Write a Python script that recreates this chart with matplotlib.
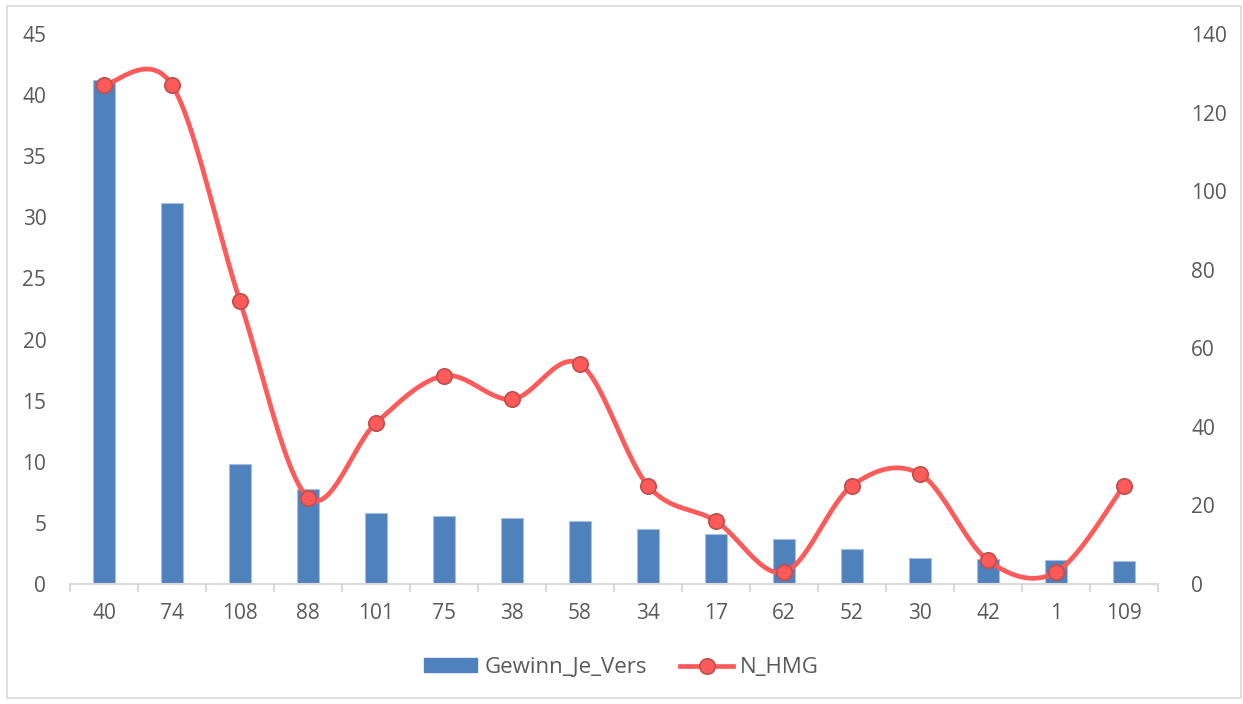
import numpy as np
import matplotlib
matplotlib.use("Agg")
import matplotlib.pyplot as plt
from matplotlib.patches import Rectangle, Patch
from matplotlib.lines import Line2D

# category labels along the x axis
categories = ["40", "74", "108", "88", "101", "75", "38", "58",
              "34", "17", "62", "52", "30", "42", "1", "109"]
# bars, left axis
gewinn_je_vers = [41.2, 31.2, 9.8, 7.8, 5.8, 5.55, 5.37, 5.15,
                  4.47, 4.09, 3.71, 2.84, 2.15, 2.07, 1.96, 1.86]
# smoothed line, right axis
n_hmg = [127, 127, 72, 22, 41, 53, 47, 56, 25, 16, 3, 25, 28, 6, 3, 25]

BAR_COLOR = "#4F81BD"
LINE_COLOR = "#FF5A5A"
TEXT_COLOR = "#595959"
AXIS_COLOR = "#D9D9D9"

plt.rcParams["font.family"] = ["Open Sans", "DejaVu Sans"]


def smooth(x, y, steps=30):
    """Bezier smoothing through every point (Catmull-Rom style)."""
    px = np.concatenate([[x[0]], x, [x[-1]]])
    py = np.concatenate([[y[0]], y, [y[-1]]])
    xs, ys = [], []
    t = np.linspace(0, 1, steps)
    for i in range(1, len(px) - 2):
        p0 = np.array([px[i], py[i]])
        p3 = np.array([px[i + 1], py[i + 1]])
        p1 = p0 + (np.array([px[i + 1], py[i + 1]]) - np.array([px[i - 1], py[i - 1]])) / 6
        p2 = p3 - (np.array([px[i + 2], py[i + 2]]) - np.array([px[i], py[i]])) / 6
        b = ((1 - t) ** 3)[:, None] * p0 + (3 * (1 - t) ** 2 * t)[:, None] * p1 \
            + (3 * (1 - t) * t ** 2)[:, None] * p2 + (t ** 3)[:, None] * p3
        xs.extend(b[:, 0])
        ys.extend(b[:, 1])
    return np.array(xs), np.array(ys)


fig = plt.figure(figsize=(12.43, 7.04), dpi=100)
fig.patches.append(Rectangle((0.006, 0.008), 0.992, 0.984, transform=fig.transFigure,
                             fill=False, edgecolor=AXIS_COLOR, linewidth=1.2))

ax = fig.add_axes([0.0563, 0.1705, 0.8753, 0.78125])
x = np.arange(len(categories))

ax.bar(x, gewinn_je_vers, width=0.32, color=BAR_COLOR, edgecolor="#A7BFDE",
       linewidth=0.8, zorder=2)
ax.set_xlim(-0.5, len(categories) - 0.5)
ax.set_ylim(0, 45)
ax.set_yticks(np.arange(0, 46, 5))

ax2 = ax.twinx()
sx, sy = smooth(x.astype(float), np.array(n_hmg, dtype=float))
ax2.plot(sx, sy, color=LINE_COLOR, linewidth=3.4, solid_capstyle="round", zorder=3)
ax2.plot(x, n_hmg, linestyle="none", marker="o", markersize=11,
         markerfacecolor=LINE_COLOR, markeredgecolor="#C0504D",
         markeredgewidth=1.3, zorder=4)
ax2.set_ylim(0, 140)
ax2.set_yticks(np.arange(0, 141, 20))

for a in (ax, ax2):
    for s in a.spines.values():
        s.set_visible(False)
ax.spines["bottom"].set_visible(True)
ax.spines["bottom"].set_color(AXIS_COLOR)
ax.spines["bottom"].set_linewidth(1.5)

ax.set_xticks(x)
ax.set_xticklabels(categories)
ax.set_xticks(np.arange(-0.5, len(categories), 1.0), minor=True)
ax.tick_params(axis="x", which="major", length=0, pad=14, labelsize=15,
               labelcolor=TEXT_COLOR)
ax.tick_params(axis="x", which="minor", length=6, width=1.5, color=AXIS_COLOR,
               direction="out")
ax.tick_params(axis="y", length=0, pad=17, labelsize=15, labelcolor=TEXT_COLOR)
ax2.tick_params(axis="y", length=0, pad=24, labelsize=15, labelcolor=TEXT_COLOR)

handles = [
    Patch(facecolor=BAR_COLOR, edgecolor=BAR_COLOR, label="Gewinn_Je_Vers"),
    Line2D([0], [0], color=LINE_COLOR, linewidth=3.4, marker="o", markersize=11,
           markerfacecolor=LINE_COLOR, markeredgecolor="#C0504D",
           markeredgewidth=1.3, label="N_HMG"),
]
leg = fig.legend(handles=handles, loc="center", bbox_to_anchor=(0.5, 0.052),
                 ncol=2, frameon=False, fontsize=16, handlelength=2.4,
                 handleheight=0.55, handletextpad=0.3, columnspacing=1.5)
for t in leg.get_texts():
    t.set_color(TEXT_COLOR)

fig.savefig("out.png", dpi=100)
